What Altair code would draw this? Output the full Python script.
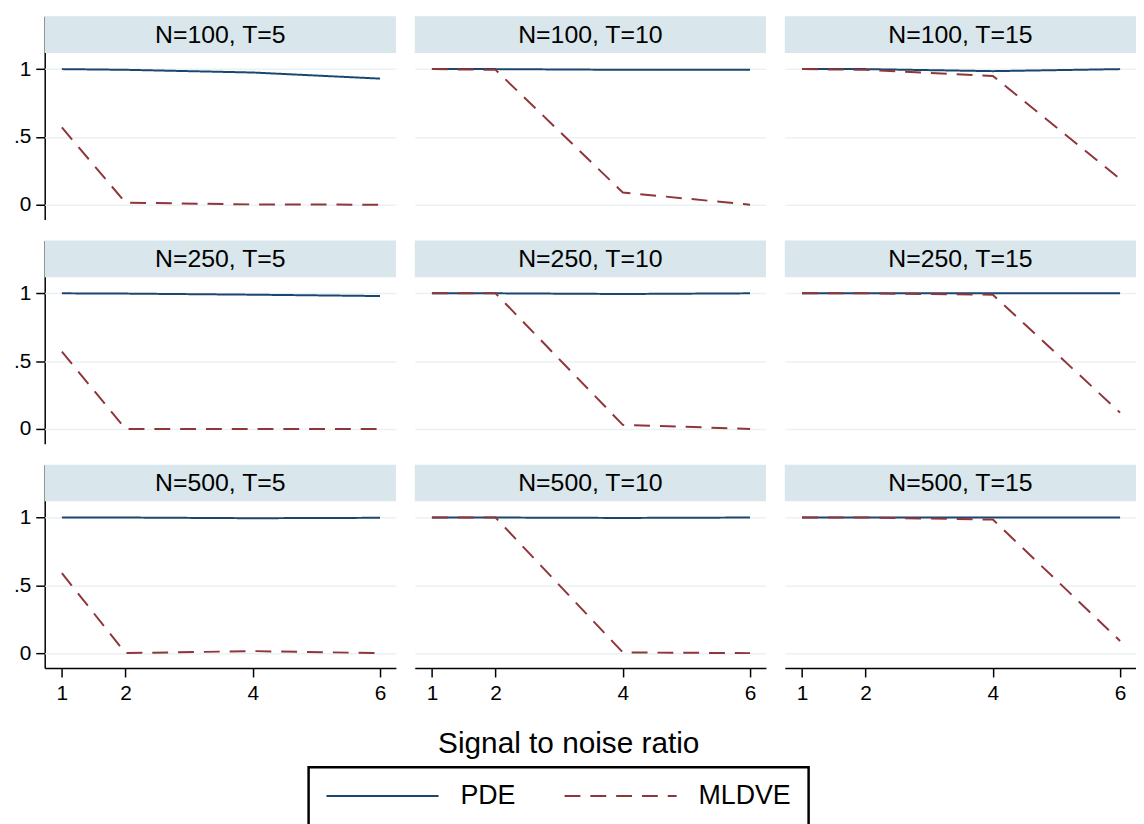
import altair as alt
import pandas as pd

snr = [1, 2, 4, 6]
n_values = [100, 250, 500]
t_values = [5, 10, 15]

pde = {
    (100, 5): [1.0, 0.995, 0.975, 0.93],
    (100, 10): [1.0, 1.0, 0.995, 0.995],
    (100, 15): [1.0, 1.0, 0.985, 1.0],
    (250, 5): [1.0, 0.998, 0.99, 0.98],
    (250, 10): [1.0, 1.0, 0.995, 1.0],
    (250, 15): [1.0, 1.0, 1.0, 1.0],
    (500, 5): [1.0, 1.0, 0.995, 0.998],
    (500, 10): [1.0, 1.0, 0.997, 1.0],
    (500, 15): [1.0, 1.0, 1.0, 1.0],
}
mldve = {
    (100, 5): [0.57, 0.015, 0.002, 0.0],
    (100, 10): [1.0, 0.995, 0.09, 0.0],
    (100, 15): [1.0, 0.995, 0.95, 0.19],
    (250, 5): [0.57, 0.0, 0.0, 0.0],
    (250, 10): [1.0, 1.0, 0.03, 0.0],
    (250, 15): [1.0, 1.0, 0.99, 0.12],
    (500, 5): [0.59, 0.0, 0.015, 0.0],
    (500, 10): [1.0, 1.0, 0.005, 0.0],
    (500, 15): [1.0, 1.0, 0.985, 0.09],
}

rows = []
for n in n_values:
    for t in t_values:
        label = f"N={n}, T={t}"
        for name, src in (("PDE", pde), ("MLDVE", mldve)):
            for s, v in zip(snr, src[(n, t)]):
                rows.append({"N": n, "T": t, "label": label, "series": name, "snr": s, "value": v})
df = pd.DataFrame(rows)

W, H = 354, 205
FONT = "Liberation Sans"

base = alt.Chart(df)

strip = base.transform_filter("datum.snr == 1 && datum.series == 'PDE'").mark_rect(
    color="#d9e6eb"
).encode(x=alt.value(0), x2=alt.value(W), y=alt.value(0), y2=alt.value(37))

strip_text = base.transform_filter("datum.snr == 1 && datum.series == 'PDE'").mark_text(
    fontSize=25, font=FONT, baseline="middle", align="center", color="black"
).encode(x=alt.value(W / 2), y=alt.value(19), text="label:N")

legend_spec = dict(
    title=None, orient="none", legendX=266, legendY=757,
    direction="horizontal", symbolType="stroke", symbolSize=12769,
    symbolStrokeWidth=2, labelFontSize=27, labelFont=FONT,
    labelOffset=21, columnPadding=48, padding=17, clipHeight=24,
    strokeColor="black", labelColor="black",
)

lines = base.mark_line(strokeWidth=2, clip=True).encode(
    x=alt.X(
        "snr:Q",
        scale=alt.Scale(domain=[0.73, 6.25], nice=False, zero=False),
        axis=alt.Axis(values=snr, title=None, grid=False, labelFontSize=21, labelFont=FONT,
                      tickSize=9, tickWidth=1.5, tickColor="black", domainColor="black",
                      domainWidth=1.5, labelPadding=6, labelColor="black", zindex=0),
    ),
    y=alt.Y(
        "value:Q",
        scale=alt.Scale(domain=[-0.11, 1.39], nice=False, zero=False),
        axis=alt.Axis(values=[0, 0.5, 1], title=None, grid=True, gridColor="#eaf2f3",
                      gridWidth=1.5, labelFontSize=21, labelFont=FONT,
                      labelExpr="datum.value == 0.5 ? '.5' : (datum.value == 1 ? '1' : '0')",
                      tickSize=9, tickWidth=1.5, tickColor="black", domainColor="black",
                      domainWidth=1.5, labelPadding=5, labelColor="black", zindex=0),
    ),
    color=alt.Color(
        "series:N",
        scale=alt.Scale(domain=["PDE", "MLDVE"], range=["#1a476f", "#90353b"]),
        legend=alt.Legend(**legend_spec),
    ),
    strokeDash=alt.StrokeDash(
        "series:N",
        scale=alt.Scale(domain=["PDE", "MLDVE"], range=[[1, 0], [16, 10]]),
        legend=alt.Legend(**legend_spec),
    ),
)

panel = alt.layer(strip, strip_text, lines).properties(width=W, height=H)

chart = panel.facet(
    row=alt.Row("N:O", sort=n_values, header=alt.Header(labels=False, title=None)),
    column=alt.Column("T:O", sort=t_values, header=alt.Header(labels=False, title=None)),
    spacing={"row": 21, "column": 19},
).properties(
    title=alt.TitleParams("Signal to noise ratio", orient="bottom", anchor="middle",
                          fontSize=30, font=FONT, fontWeight="normal", color="black",
                          dx=-6, offset=-99),
    padding={"left": 5, "top": 5, "right": 0, "bottom": 5},
).configure_view(stroke=None).configure_legend(strokeWidth=2.5)

chart.save("out.html", embed_options={"renderer": "svg", "actions": False})
